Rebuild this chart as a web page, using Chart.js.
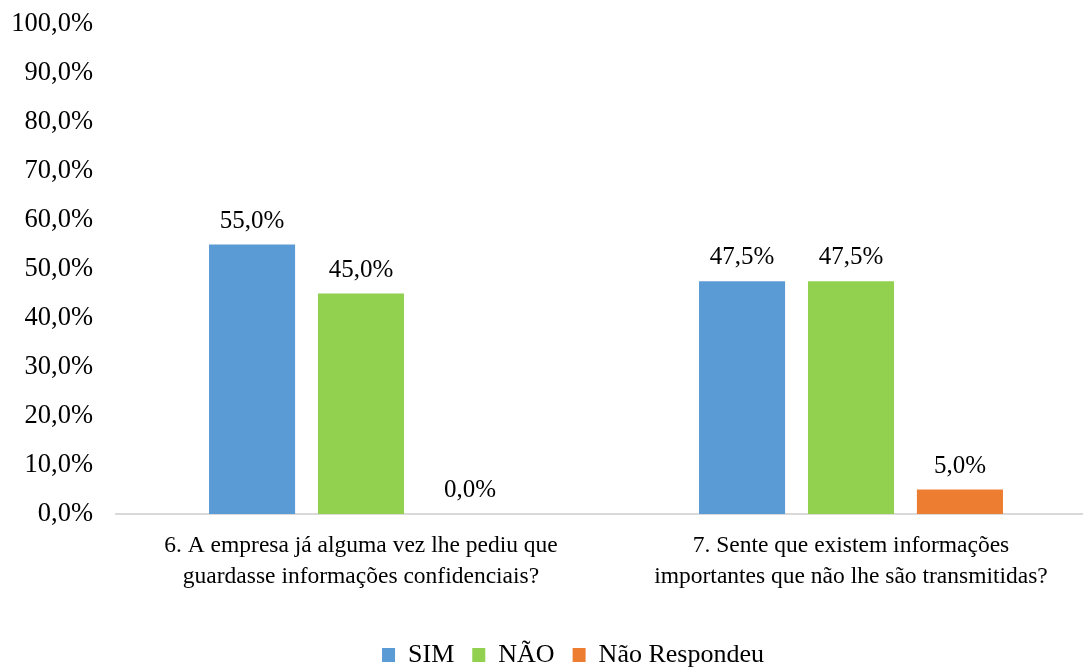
<!DOCTYPE html>
<html>
<head>
<meta charset="utf-8">
<script src="https://cdn.jsdelivr.net/npm/chart.js@4"></script>
<style>
  html, body { margin: 0; padding: 0; background: #fff; overflow: hidden; }
  #wrap { width: 1096px; height: 678px; }
</style>
</head>
<body>
<div id="wrap"><canvas id="chart"></canvas></div>
<script>
const categories = [
    ['6. A empresa já alguma vez lhe pediu que', 'guardasse informações confidenciais?'],
    ['7. Sente que existem informações', 'importantes que não lhe são transmitidas?']
]
const seriesNames = ['SIM', 'NÃO', 'Não Respondeu']
const sim = [55.0, 47.5]
const nao = [45.0, 47.5]
const naoRespondeu = [0.0, 5.0]
const yTicks = [0, 10, 20, 30, 40, 50, 60, 70, 80, 90, 100]

const colors = ['#5B9BD5', '#92D050', '#ED7D31']
const fontFamily = '"Liberation Serif", "Times New Roman", serif'

function pct(v) {
    return v.toFixed(1).replace('.', ',') + '%'
}

// value labels above each bar
const barLabels = {
    id: 'barLabels',
    afterDatasetsDraw(chart) {
        const ctx = chart.ctx
        ctx.save()
        ctx.font = '25px ' + fontFamily
        ctx.fillStyle = '#000'
        ctx.textAlign = 'center'
        ctx.textBaseline = 'alphabetic'
        chart.data.datasets.forEach((ds, i) => {
            chart.getDatasetMeta(i).data.forEach((bar, j) => {
                ctx.fillText(pct(ds.data[j]), bar.x, bar.y - 17)
            })
        })
        ctx.restore()
    }
}

new Chart(document.getElementById('chart'), {
    type: 'bar',
    data: {
        labels: categories,
        datasets: [sim, nao, naoRespondeu].map((d, i) => ({
            label: seriesNames[i],
            data: d,
            backgroundColor: colors[i],
            borderWidth: 0,
            categoryPercentage: 0.667,
            barPercentage: 0.79
        }))
    },
    options: {
        responsive: true,
        maintainAspectRatio: false,
        animation: false,
        layout: { padding: { top: 24, right: 0, left: 6, bottom: 0 } },
        plugins: {
            tooltip: { enabled: false },
            legend: {
                position: 'bottom',
                labels: {
                    font: { family: fontFamily, size: 26 },
                    color: '#000',
                    boxWidth: 13,
                    boxHeight: 14,
                    padding: 18,
                    // empty first entry nudges the row right, like the original
                    generateLabels(chart) {
                        const items = Chart.defaults.plugins.legend.labels.generateLabels(chart)
                        items.unshift({ text: '', fillStyle: 'rgba(0,0,0,0)', strokeStyle: 'rgba(0,0,0,0)', lineWidth: 0, hidden: false })
                        return items
                    }
                }
            }
        },
        scales: {
            x: {
                grid: { display: false, drawTicks: false },
                border: { display: true, color: '#d9d9d9', width: 2 },
                ticks: {
                    font: { family: fontFamily, size: 23.5, lineHeight: 1.32 },
                    color: '#000',
                    padding: 16,
                    maxRotation: 0
                },
                afterFit(scale) { scale.height = 110 }
            },
            y: {
                min: 0,
                max: 100,
                afterBuildTicks(scale) { scale.ticks = yTicks.map(v => ({ value: v })) },
                grid: { display: false, drawTicks: true, tickLength: 23 },
                border: { display: false },
                ticks: {
                    font: { family: fontFamily, size: 26.5 },
                    color: '#000',
                    padding: 0,
                    callback: v => pct(v)
                },
                afterFit(scale) { scale.width = 110 }
            }
        }
    },
    plugins: [barLabels]
});
</script>
</body>
</html>
